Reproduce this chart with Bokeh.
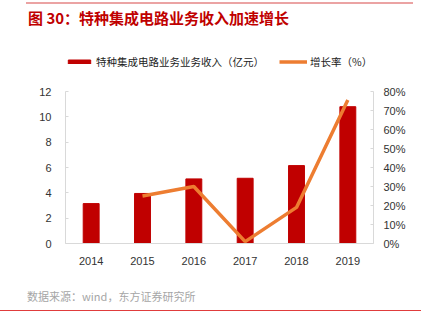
from bokeh.plotting import figure
from bokeh.layouts import column
from bokeh.models import (ColumnDataSource, LinearAxis, Range1d, FactorRange, Div,
                          Legend, LegendItem, NumeralTickFormatter, FixedTicker)
from bokeh.embed import file_html
from bokeh.resources import INLINE

years = ["2014", "2015", "2016", "2017", "2018", "2019"]
revenue = [3.15, 3.95, 5.1, 5.15, 6.15, 10.8]
growth_years = ["2015", "2016", "2017", "2018", "2019"]
growth = [0.25, 0.30, 0.01, 0.19, 0.755]

title_text = "图 30：特种集成电路业务收入加速增长"
source_text = "数据来源：wind，东方证券研究所"
bar_name = "特种集成电路业务业务收入（亿元）"
line_name = "增长率（%）"

BAR_COLOR = "#C00000"
LINE_COLOR = "#ED7D31"

W = 421
TOP_H = 48                     # title strip height
FL, FR, FT, FB = 65, 373, 91, 243   # visible axis box on the canvas
MAIN_H = 280 - TOP_H
BOT_H = 327 - TOP_H - MAIN_H
Y_MAX, P_MAX = 12, 0.8
stretch = (FB - TOP_H) / (FB - FT)   # frame extends up to the strip for the legend

# title strip: Bokeh margin places the box; CSS draws the rule above the text
title_div = Div(
    text=title_text,
    width=387, height=TOP_H - 2, margin=(2, W - 26 - 387, 0, 26),
    styles={"border-top": "2.5px solid #eba3a3", "padding-top": "3px",
            "padding-left": "2px", "font-family": "'Noto Sans CJK SC'",
            "font-weight": "bold", "font-size": "15px", "line-height": "22px",
            "color": BAR_COLOR, "white-space": "nowrap", "box-sizing": "border-box"})

# main chart
p = figure(width=W, height=MAIN_H, x_range=FactorRange(factors=years, range_padding=0),
           y_range=Range1d(0, Y_MAX * stretch), output_backend="svg", toolbar_location=None,
           min_border_left=FL, min_border_right=W - FR, min_border_top=0,
           min_border_bottom=TOP_H + MAIN_H - FB, margin=0)
p.extra_y_ranges = {"pct": Range1d(0, P_MAX * stretch)}
p.outline_line_color = None
p.xgrid.grid_line_color = None
p.ygrid.grid_line_color = None

src = ColumnDataSource(dict(x=years, y=revenue))
bars = p.vbar(x="x", top="y", width=0.31, source=src, fill_color=BAR_COLOR,
              line_color=BAR_COLOR)
lsrc = ColumnDataSource(dict(x=growth_years, y=growth))
line = p.line(x="x", y="y", source=lsrc, y_range_name="pct", line_color=LINE_COLOR,
              line_width=3.5)

axis_color = "#d9d9d9"
label_font = "Liberation Sans"

ya = p.yaxis[0]
ya.ticker = FixedTicker(ticks=[0, 2, 4, 6, 8, 10, 12])
ya.bounds = (0, Y_MAX)
ya.axis_line_color = axis_color
ya.major_tick_line_color = axis_color
ya.major_tick_in = 3
ya.major_tick_out = 0
ya.minor_tick_line_color = None
ya.major_label_standoff = 14
ya.major_label_text_font = label_font
ya.major_label_text_font_size = "11px"
ya.major_label_text_color = "#333333"

ra = LinearAxis(y_range_name="pct", ticker=FixedTicker(ticks=[0, .1, .2, .3, .4, .5, .6, .7, .8]),
                formatter=NumeralTickFormatter(format="0%"), bounds=(0, P_MAX))
ra.axis_line_color = axis_color
ra.major_tick_line_color = axis_color
ra.major_tick_in = 3
ra.major_tick_out = 0
ra.minor_tick_line_color = None
ra.major_label_standoff = 10
ra.major_label_text_font = label_font
ra.major_label_text_font_size = "11px"
ra.major_label_text_color = "#333333"
p.add_layout(ra, "right")

xa = p.xaxis[0]
xa.axis_line_color = axis_color
xa.major_tick_line_color = None
xa.minor_tick_line_color = None
xa.major_label_standoff = 7
xa.major_label_text_font = label_font
xa.major_label_text_font_size = "11px"
xa.major_label_text_color = "#333333"

legend = Legend(items=[LegendItem(label=bar_name, renderers=[bars]),
                       LegendItem(label=line_name, renderers=[line])],
                orientation="horizontal", location=(0, FB - 69),
                glyph_width=28, glyph_height=5, label_standoff=3, spacing=15,
                padding=0, margin=0, border_line_color=None,
                background_fill_alpha=0,
                label_text_font="Noto Sans CJK SC", label_text_font_size="10.5px",
                label_text_color="#222222", label_height=14)
p.add_layout(legend, "center")

# source strip
src_div = Div(
    text=(f'<div style="position:relative;width:{W}px;height:{BOT_H}px;">'
          f'<div style="position:absolute;left:27px;top:8px;font-family:\'Noto Sans CJK SC\';'
          f'font-size:11px;line-height:16px;color:#a6a6a6;white-space:nowrap">{source_text}</div>'
          f'<div style="position:absolute;left:0;top:29.5px;width:{W}px;height:0;'
          f'border-top:1.3px solid #e03c3c"></div></div>'),
    width=W, height=BOT_H, margin=0)

layout = column(title_div, p, src_div, spacing=0)
open("out.html", "w").write(file_html(layout, INLINE))
